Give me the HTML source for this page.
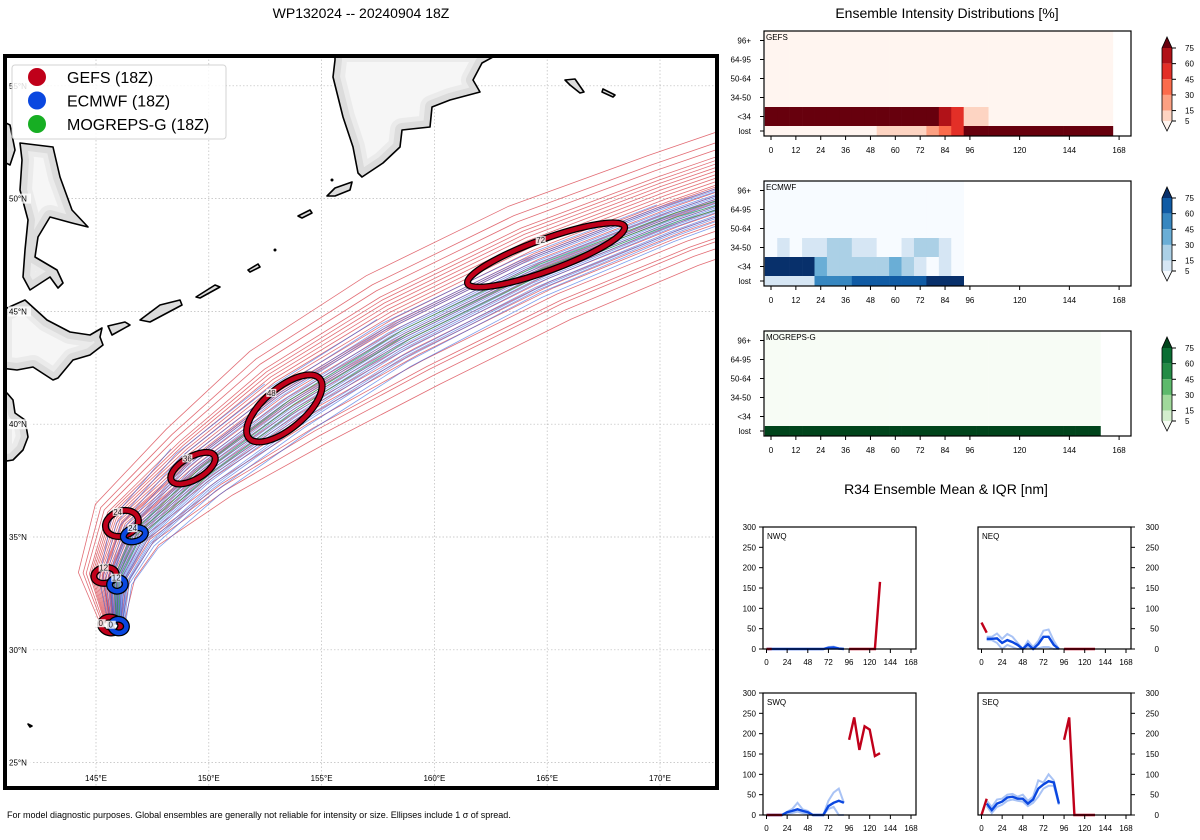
<!DOCTYPE html>
<html><head><meta charset="utf-8"><style>
html,body{margin:0;padding:0;background:#fff;}
svg{display:block;font-family:"Liberation Sans","DejaVu Sans",sans-serif;}
</style></head><body>
<svg id="fig" width="1200" height="840" viewBox="0 0 1200 840" xmlns="http://www.w3.org/2000/svg">
<defs id="defs">
<clipPath id="mapclip"><rect x="7" y="58" width="708" height="728"/></clipPath>
</defs>
<text x="361" y="18" text-anchor="middle" font-size="14">WP132024 -- 20240904 18Z</text>
<text x="947" y="18" text-anchor="middle" font-size="14">Ensemble Intensity Distributions [%]</text>
<text x="946" y="494" text-anchor="middle" font-size="14">R34 Ensemble Mean &amp; IQR [nm]</text>
<text x="7" y="818" font-size="9">For model diagnostic purposes. Global ensembles are generally not reliable for intensity or size. Ellipses include 1 σ of spread.</text>
<g id="map"></g>
<g id="heat"></g>
<g id="r34"></g>
</svg>
<script>
// ===== MAP DATA =====
const trackHours = [0,12,24,36,48,60,72,84,96,108];
const gefsMeanLon = [145.7,145.4,146.3,149.5,153.4,158.5,164.6,170.5,176,181];
const gefsMeanLat = [31.2,33.3,35.6,38.4,41.3,44.3,47.3,49.6,51.5,53];
const gefsSpread = [0.3,0.7,1.0,1.3,1.7,1.9,1.9,1.8,1.8,1.8];
const ecmwfMeanLon = [146.0,146.0,146.9,149.6,153.5,158.2,164.2,170.2,176,181];
const ecmwfMeanLat = [31.1,33.0,35.0,37.7,40.6,43.6,46.6,49.0,51,52.5];
const ecmwfSpread = [0.2,0.4,0.7,0.9,1.0,1.0,0.9,0.8,0.7,0.7];
const mogMeanLon = [146.0,145.9,146.8,149.8,153.8,158.8,164.8,170.8,177,182];
const mogMeanLat = [31.1,33.1,35.1,37.9,40.9,44.0,46.9,49.2,51,52.6];
const gefsMembers = [-1.6,-1.3,-1.1,-0.9,-0.8,-0.6,-0.5,-0.4,-0.3,-0.2,-0.1,0,0.1,0.2,0.3,0.4,0.5,0.6,0.8,0.9,1.0,1.2,1.4,-1.9,1.7,-0.7,0.7,-1.4,0.15,-0.25];
const ecmwfMembers = [-1.5,-1.2,-1.0,-0.8,-0.6,-0.5,-0.4,-0.3,-0.2,-0.1,0,0.1,0.2,0.3,0.4,0.5,0.6,0.8,1.0,1.2,1.5,1.8,2.2,-0.9,0.9];
const ecmwfLengths = [10,10,10,10,10,10,10,10,10,10,10,10,10,10,10,10,10,10,9,8,6,5,4,10,9];
const mogMembers = [-0.3,0,0.3];
const ellipseHours = ['0','12','24','36','48','72'];
const gefsEllLon = [145.65,145.4,146.15,149.3,153.35,164.95];
const gefsEllLat = [31.1,33.3,35.6,38.05,40.7,47.5];
const gefsEllA = [0.35,0.5,0.75,1.1,2.05,3.7];
const gefsEllB = [0.45,0.35,0.55,0.5,0.9,0.7];
const gefsEllRot = [-80,-10,-20,-30,-40,-20];
const ecmwfEllLon = [146.0,145.95,146.7];
const ecmwfEllLat = [31.05,32.9,35.1];
const ecmwfEllA = [0.3,0.35,0.5];
const ecmwfEllB = [0.35,0.3,0.3];
const ecmwfEllRot = [-80,-10,-15];
const lonTicks = [145,150,155,160,165,170];
const latTicks = [25,30,35,40,45,50,55];

// ===== HEATMAP DATA =====
const intensityRows = ['lost','<34','34-50','50-64','64-95','96+'];
const heatXTicks = [0,12,24,36,48,60,72,84,96,120,144,168];
const gefsCols = [0,6,12,18,24,30,36,42,48,54,60,66,72,78,84,90,96,108,120,132,144,156];
const gefsLost = [0,0,0,0,0,0,0,0,0,8,8,8,8,20,35,50,100,100,100,100,100,100];
const gefsLt34 = [100,100,100,100,100,100,100,100,100,100,100,100,100,100,65,50,10,0,0,0,0,0];
const gefs3450 = [0,0,0,0,0,0,0,0,0,0,0,0,0,0,0,0,0,0,0,0,0,0];
const gefs5064 = [0,0,0,0,0,0,0,0,0,0,0,0,0,0,0,0,0,0,0,0,0,0];
const gefs6495 = [0,0,0,0,0,0,0,0,0,0,0,0,0,0,0,0,0,0,0,0,0,0];
const gefs96 = [0,0,0,0,0,0,0,0,0,0,0,0,0,0,0,0,0,0,0,0,0,0];
const ecmwfCols = [0,6,12,18,24,30,36,42,48,54,60,66,72,78,84,90];
const ecmwfLost = [10,10,10,10,50,50,50,65,65,65,65,65,65,85,85,85];
const ecmwfLt34 = [90,90,90,90,40,20,20,20,20,20,40,20,10,0,10,0];
const ecmwf3450 = [0,10,0,10,10,20,20,10,10,0,0,10,20,20,10,0];
const ecmwf5064 = [0,0,0,0,0,0,0,0,0,0,0,0,0,0,0,0];
const ecmwf6495 = [0,0,0,0,0,0,0,0,0,0,0,0,0,0,0,0];
const ecmwf96 = [0,0,0,0,0,0,0,0,0,0,0,0,0,0,0,0];
const mogCols = [0,6,12,18,24,30,36,42,48,54,60,66,72,78,84,90,96,102,108,114,120,126,132,138,144,150,156];
const mogLost = [100,100,100,100,100,100,100,100,100,100,100,100,100,100,100,100,100,100,100,100,100,100,100,100,100,100,100];
const mogOther = [0,0,0,0,0,0,0,0,0,0,0,0,0,0,0,0,0,0,0,0,0,0,0,0,0,0,0];
const cbarTicks = [75,60,45,30,15,5];

// ===== R34 DATA =====
const r34Ticks = [0,50,100,150,200,250,300];
const r34XTicks = [0,24,48,72,96,120,144,168];
const nwqGefsH = [0,6,null,96,102,108,114,120,126,132];
const nwqGefsV = [0,0,null,0,0,0,0,0,0,165];
const nwqEcH = [0,6,12,18,24,30,36,42,48,54,60,66,72,78,84,90];
const nwqEcV = [0,0,0,0,0,0,0,0,0,0,0,0,3,4,1,0];
const nwqEcHi = [0,0,0,0,0,0,0,0,0,0,0,0,5,6,2,0];
const nwqEcLo = [0,0,0,0,0,0,0,0,0,0,0,0,0,0,0,0];
const neqGefsH = [0,6,null,96,102,108,114,120,126,132];
const neqGefsV = [65,40,null,0,0,0,0,0,0,0];
const neqEcH = [6,12,18,24,30,36,42,48,54,60,66,72,78,84,90];
const neqEcV = [25,25,26,15,22,17,10,0,12,0,12,30,30,10,0];
const neqEcHi = [30,30,38,25,37,30,15,0,20,5,20,45,48,20,0];
const neqEcLo = [22,22,15,0,10,5,0,0,5,0,2,5,5,0,0];
const swqGefsH = [0,6,12,18,null,96,102,108,114,120,126,132];
const swqGefsV = [0,0,0,0,null,185,240,160,218,210,145,152];
const swqEcH = [0,6,12,18,24,30,36,42,48,54,60,66,72,78,84,90];
const swqEcV = [0,0,0,0,7,10,14,10,7,0,0,0,22,30,35,30];
const swqEcHi = [0,0,0,0,8,15,30,14,10,0,0,0,35,55,65,30];
const swqEcLo = [0,0,0,0,3,5,8,5,3,0,0,0,15,20,0,0];
const seqGefsH = [0,6,null,96,102,108,114,120,126,132];
const seqGefsV = [0,40,null,185,240,0,0,0,0,0];
const seqEcH = [6,12,18,24,30,36,42,48,54,60,66,72,78,84,90];
const seqEcV = [28,12,28,33,43,45,40,40,28,38,65,75,83,80,28];
const seqEcHi = [35,20,38,40,50,52,45,50,35,45,85,80,100,85,30];
const seqEcLo = [22,5,20,25,35,38,35,33,22,30,45,65,72,72,25];

const NS = 'http://www.w3.org/2000/svg';
function mk(tag, attrs, parent){ const e=document.createElementNS(NS,tag); for(const k in attrs) e.setAttribute(k,attrs[k]); parent.appendChild(e); return e; }

// ===== MAP =====
const map = document.getElementById('map');
const defs = document.getElementById('defs');
const lonX = lon => 96 + (lon-145)*22.56;
const latY = lat => 537 - (lat-35)*22.56;
let bg = mk('rect',{x:5,y:56,width:712,height:732,fill:'#fff'},map);


const gridG = mk('g',{'clip-path':'url(#mapclip)'},map);


lonTicks.forEach(l=>{ mk('line',{x1:lonX(l),x2:lonX(l),y1:56,y2:788,stroke:'#bbb','stroke-width':0.7,'stroke-dasharray':'1.5,2'},gridG); });
latTicks.forEach(l=>{ mk('line',{x1:5,x2:717,y1:latY(l),y2:latY(l),stroke:'#bbb','stroke-width':0.7,'stroke-dasharray':'1.5,2'},gridG); });

const landG = mk('g',{'clip-path':'url(#mapclip)'},map);


const lands = [
 'M20,143 L53,147 L60,177 L72,210 L88,227 L72,223 L50,217 L38,237 L35,257 L57,270 L63,283 L58,288 L50,277 L30,290 L23,277 L25,250 L28,220 L20,190 L22,160 Z',
 'M0,308 L7,308 L25,300 L47,320 L70,332 L90,335 L102,328 L100,337 L103,345 L90,355 L73,360 L58,378 L53,380 L33,367 L17,370 L0,368 Z',
 'M0,393 L7,393 L13,400 L15,413 L25,420 L28,437 L23,450 L13,460 L0,462 Z',
 'M0,120 L10,125 L15,150 L10,165 L0,160 Z',
 'M335,50 L335,60 L333,77 L343,117 L353,147 L358,173 L362,177 L383,163 L400,147 L402,130 L430,127 L432,107 L450,100 L480,92 L473,80 L482,63 L493,57 L510,50 Z',
 'M108,326 L125,322 L130,325 L112,335 Z','M140,320 L160,305 L180,300 L182,305 L150,322 Z','M196,297 L215,285 L220,287 L200,298 Z',
 'M248,270 L258,264 L260,267 L250,272 Z','M298,216 L310,210 L312,213 L302,218 Z','M327,196 L335,188 L352,182 L350,190 L335,196 Z',
 'M565,80 L575,79 L584,92 L580,93 L570,85 Z','M603,89 L615,95 L613,97 L602,92 Z','M28,724 L32,726 L30,727 Z'
];
lands.forEach((d,i)=>{
  const cp = mk('clipPath',{id:'land'+i},defs);
  mk('path',{d:d},cp);
  const p = mk('path',{d:d,fill:'#f6f6f6',stroke:'none'},landG);
  
  
  const cg = mk('g',{'clip-path':'url(#land'+i+')'},landG);
  mk('path',{d:d,fill:'none',stroke:'#d0d0d0','stroke-width':14,'stroke-linejoin':'round'},cg);
  mk('path',{d:d,fill:'none',stroke:'#e4e4e4','stroke-width':24,'stroke-linejoin':'round',opacity:0.6},cg);
  mk('path',{d:d,fill:'none',stroke:'#000','stroke-width':1.6,'stroke-linejoin':'round'},landG);
});
mk('circle',{cx:275,cy:250,r:1.5,fill:'#000'},landG);
mk('circle',{cx:332,cy:180,r:1.5,fill:'#000'},landG);

const trackG = mk('g',{'clip-path':'url(#mapclip)',fill:'none'},map);


function memberPts(mLon,mLat,spr,f,len){
  const pts=[];
  for(let i=0;i<len;i++){
    const a=Math.max(0,i-1), b=Math.min(mLon.length-1,i+1);
    const dx=mLon[b]-mLon[a], dy=mLat[b]-mLat[a]; const n=Math.hypot(dx,dy)||1;
    const px=-dy/n, py=dx/n;
    const lon=mLon[i]+f*spr[i]*px, lat=mLat[i]+f*spr[i]*py*0.8;
    pts.push(lonX(lon).toFixed(1)+','+latY(lat).toFixed(1));
  }
  return pts.join(' ');
}
gefsMembers.forEach(f=>{
  const pl=mk('polyline',{points:memberPts(gefsMeanLon,gefsMeanLat,gefsSpread,f,10),stroke:'#d62f3a','stroke-width':0.8,opacity:0.7},trackG);
  
  
});
ecmwfMembers.forEach((f,i)=>{
  const pl=mk('polyline',{points:memberPts(ecmwfMeanLon,ecmwfMeanLat,ecmwfSpread,f,ecmwfLengths[i]),stroke:'#2a5fe0','stroke-width':0.8,opacity:0.6},trackG);
  
  
});
mogMembers.forEach(f=>{
  const pl=mk('polyline',{points:memberPts(mogMeanLon,mogMeanLat,ecmwfSpread,f,10),stroke:'#2ca02c','stroke-width':0.8,opacity:0.7},trackG);
  
  
});
function drawEll(lon,lat,a,b,rot,color,label,name){
  const g=mk('g',{},trackG);
  
  
  const cx=lonX(lon), cy=latY(lat), rx=a*22.56, ry=b*22.56;
  mk('ellipse',{cx:cx,cy:cy,rx:rx,ry:ry,transform:`rotate(${rot} ${cx} ${cy})`,stroke:'#000','stroke-width':7,fill:'none'},g);
  mk('ellipse',{cx:cx,cy:cy,rx:rx,ry:ry,transform:`rotate(${rot} ${cx} ${cy})`,stroke:color,'stroke-width':4.5,fill:'none'},g);
  const t=rot*Math.PI/180, ang=-Math.PI/2;
  const lx=cx+rx*Math.cos(ang)*Math.cos(t)-ry*Math.sin(ang)*Math.sin(t);
  const ly=cy+rx*Math.cos(ang)*Math.sin(t)+ry*Math.sin(ang)*Math.cos(t);
  mk('rect',{x:lx-5,y:ly-4,width:10,height:8,fill:'#fff',opacity:0.85},g);
  const tx=mk('text',{x:lx,y:ly+3,'font-size':8,'text-anchor':'middle',fill:'#222'},g); tx.textContent=label;
}
gefsEllLon.forEach((l,i)=>drawEll(l,gefsEllLat[i],gefsEllA[i],gefsEllB[i],gefsEllRot[i],'#c0001a',ellipseHours[i],'gefs-ellipse-'+ellipseHours[i]));
ecmwfEllLon.forEach((l,i)=>drawEll(l,ecmwfEllLat[i],ecmwfEllA[i],ecmwfEllB[i],ecmwfEllRot[i],'#0a47e0',ellipseHours[i],'ecmwf-ellipse-'+ellipseHours[i]));

latTicks.forEach(l=>{
  const g=mk('g',{},map);
  
  
  mk('rect',{x:8,y:latY(l)-5,width:23,height:10,fill:'#fff',opacity:0.8},g);
  const t=mk('text',{x:9,y:latY(l)+3,'font-size':8},g); t.textContent=l+'°N';
});
lonTicks.forEach(l=>{
  const t=mk('text',{x:lonX(l),y:781,'font-size':8,'text-anchor':'middle'},map);
  
  
  t.textContent=l+'°E';
});
let frame=mk('rect',{x:5,y:56,width:712,height:732,fill:'none',stroke:'#000','stroke-width':4},map);


const leg=mk('g',{},map);


mk('rect',{x:12,y:65,width:214,height:74,rx:3,fill:'#fff',opacity:0.85,stroke:'#ccc'},leg);
[['GEFS (18Z)','#c0001a'],['ECMWF (18Z)','#0a47e0'],['MOGREPS-G (18Z)','#17ae23']].forEach((e,i)=>{
  const g=mk('g',{},leg);
  
  
  mk('circle',{cx:37,cy:77+i*23.5,r:9,fill:e[1]},g);
  const t=mk('text',{x:67,y:83+i*23.5,'font-size':16},g); t.textContent=e[0];
});

// ===== HEATMAPS =====
const heat=document.getElementById('heat');
const hx = h => 771 + h*2.072;
const redC=['#fff5f0','#fdd4c2','#fca082','#fb6b4b','#e32f27','#b11218','#67000d'];
const bluC=['#f7fbff','#d6e6f4','#abd0e6','#6aaed6','#3787c0','#105ba4','#08306b'];
const grnC=['#f7fcf5','#d3eecd','#a0d99b','#5db96b','#238b45','#0a6d33','#00441b'];
function bin(v){ if(v<5) return 0; if(v<15) return 1; if(v<30) return 2; if(v<45) return 3; if(v<60) return 4; if(v<75) return 5; return 6; }
function heatPanel(y0,name,cols,rows,cmap){
  const g=mk('g',{},heat);
  
  
  const rowTop=[y0+95,y0+76,y0+57,y0+38,y0+19,y0];
  const rowH=[10,19,19,19,19,19];
  rows.forEach((vals,r)=>{
    vals.forEach((v,i)=>{
      let x0,x1; const h=cols[i];
      if(cols===gefsCols && h>=96){ x0=hx(h-3); x1=hx(h+9); } else { x0=hx(h-3); x1=hx(h+3); }
      const c=mk('rect',{x:x0,y:rowTop[r],width:x1-x0+0.3,height:rowH[r],fill:cmap[bin(v)]},g);
      
      
    });
  });
  mk('rect',{x:764,y:y0,width:367,height:105,fill:'none',stroke:'#000','stroke-width':1.2},g);
  const lbl=mk('text',{x:766,y:y0+9,'font-size':8},g); lbl.textContent=name;
  intensityRows.forEach((r,i)=>{
    const yc=rowTop[i]+rowH[i]/2;
    mk('line',{x1:760,x2:764,y1:yc,y2:yc,stroke:'#000'},g);
    const t=mk('text',{x:751,y:yc+3,'font-size':8,'text-anchor':'end'},g); t.textContent=r;
  });
  heatXTicks.forEach(h=>{
    mk('line',{x1:hx(h),x2:hx(h),y1:y0+105,y2:y0+109,stroke:'#000'},g);
    const t=mk('text',{x:hx(h),y:y0+122,'font-size':8,'text-anchor':'middle'},g); t.textContent=h;
  });
  const cb=mk('g',{},g);
  
  
  const cy = v => y0+17 + (75-v)*(73/70);
  mk('polygon',{points:`1162,${cy(75)} 1167,${y0+6} 1172,${cy(75)}`,fill:cmap[6]},cb);
  for(let k=0;k<5;k++){ const a=cbarTicks[k], b=cbarTicks[k+1];
    mk('rect',{x:1162,y:cy(a),width:10,height:cy(b)-cy(a),fill:cmap[5-k]},cb); }
  mk('polygon',{points:`1162,${cy(5)} 1167,${cy(5)+10} 1172,${cy(5)}`,fill:cmap[0]},cb);
  mk('polygon',{points:`1162,${cy(75)} 1167,${y0+6} 1172,${cy(75)} 1172,${cy(5)} 1167,${cy(5)+10} 1162,${cy(5)}`,fill:'none',stroke:'#000','stroke-width':0.8},cb);
  cbarTicks.forEach(v=>{
    mk('line',{x1:1172,x2:1176,y1:cy(v),y2:cy(v),stroke:'#000'},cb);
    const t=mk('text',{x:1185,y:cy(v)+3,'font-size':8},cb); t.textContent=v;
  });
}
heatPanel(31,'GEFS',gefsCols,[gefsLost,gefsLt34,gefs3450,gefs5064,gefs6495,gefs96],redC);
heatPanel(181,'ECMWF',ecmwfCols,[ecmwfLost,ecmwfLt34,ecmwf3450,ecmwf5064,ecmwf6495,ecmwf96],bluC);
heatPanel(331,'MOGREPS-G',mogCols,[mogLost,mogOther,mogOther,mogOther,mogOther,mogOther],grnC);

// ===== R34 =====
const r34=document.getElementById('r34');
function r34Panel(x0,y0,name,right,gH,gV,eH,eV,eHi,eLo){
  const g=mk('g',{},r34);
  
  
  const W=153,H=122;
  const px = h => x0+3.5 + h*(144.5/168);
  const py = v => y0+H - v*(H/300);
  const line=(hs,vs)=>{ const segs=[]; let cur=[]; hs.forEach((h,i)=>{ if(h===null){ if(cur.length) segs.push(cur); cur=[]; } else cur.push(px(h).toFixed(1)+','+py(vs[i]).toFixed(1)); }); if(cur.length) segs.push(cur); return segs; };
  const cg=mk('g',{},g);
  line(eH,eHi).forEach(s=>mk('polyline',{points:s.join(' '),fill:'none',stroke:'#a9c3f5','stroke-width':2},cg));
  line(eH,eLo).forEach(s=>mk('polyline',{points:s.join(' '),fill:'none',stroke:'#a9c3f5','stroke-width':2},cg));
  line(eH,eV).forEach(s=>{ const p=mk('polyline',{points:s.join(' '),fill:'none',stroke:'#0a47e0','stroke-width':2.4},cg);
      });
  line(gH,gV).forEach(s=>{ const p=mk('polyline',{points:s.join(' '),fill:'none',stroke:'#c0001a','stroke-width':2.4},cg);
      });
  mk('rect',{x:x0,y:y0,width:W,height:H,fill:'none',stroke:'#000','stroke-width':1.2},g);
  const t=mk('text',{x:x0+4,y:y0+12,'font-size':8},g); t.textContent=name;
  r34Ticks.forEach(v=>{
    const tx = right? x0+W : x0;
    mk('line',{x1:tx,x2:right?tx+4:tx-4,y1:py(v),y2:py(v),stroke:'#000'},g);
    const l=mk('text',{x:right? tx+28: tx-7,y:py(v)+3,'font-size':8,'text-anchor':'end'},g); l.textContent=v;
  });
  r34XTicks.forEach(h=>{
    mk('line',{x1:px(h),x2:px(h),y1:y0+H,y2:y0+H+4,stroke:'#000'},g);
    const l=mk('text',{x:px(h),y:y0+H+16,'font-size':8,'text-anchor':'middle'},g); l.textContent=h;
  });
}
r34Panel(763,527,'NWQ',false,nwqGefsH,nwqGefsV,nwqEcH,nwqEcV,nwqEcHi,nwqEcLo);
r34Panel(978,527,'NEQ',true,neqGefsH,neqGefsV,neqEcH,neqEcV,neqEcHi,neqEcLo);
r34Panel(763,693,'SWQ',false,swqGefsH,swqGefsV,swqEcH,swqEcV,swqEcHi,swqEcLo);
r34Panel(978,693,'SEQ',true,seqGefsH,seqGefsV,seqEcH,seqEcV,seqEcHi,seqEcLo);
</script>
</body></html>
